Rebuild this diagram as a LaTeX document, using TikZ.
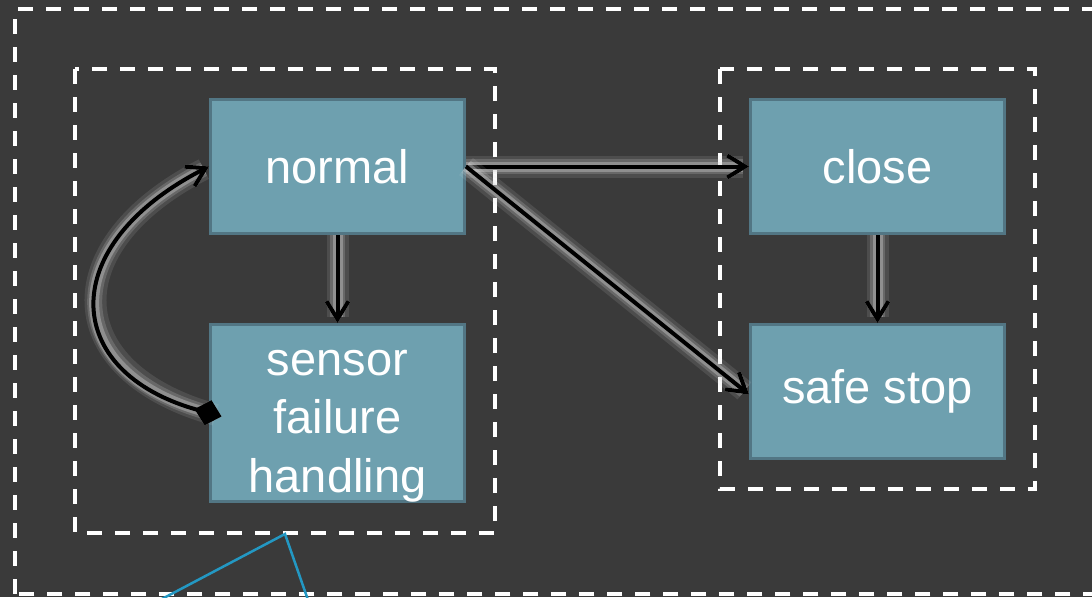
\documentclass[tikz,border=0pt]{standalone}
\usepackage{fontspec}
\setmainfont{Liberation Sans}
\usetikzlibrary{arrows.meta}
\definecolor{bg}{HTML}{3A3A3A}
\definecolor{boxfill}{HTML}{6EA0AF}
\definecolor{boxline}{HTML}{527684}
\definecolor{callout}{HTML}{2398C3}
\definecolor{glow}{HTML}{D8D8D8}
\tikzset{
  state/.style={draw=boxline, line width=3pt, fill=boxfill, text=white,
    minimum width=254pt, inner sep=0pt, align=center,
    font=\fontsize{47}{58.5}\selectfont},
  statetext/.style={text=white, align=center, font=\fontsize{47}{58.5}\selectfont},
  frame/.style={draw=white, line width=4pt, dash pattern=on 15pt off 13pt},
  conn/.style={line width=4pt, draw=black,
    -{Straight Barb[length=18pt,width=22pt,line width=4pt]},
    preaction={draw=glow, opacity=0.12, line width=22pt},
    preaction={draw=glow, opacity=0.2, line width=15pt},
    preaction={draw=glow, opacity=0.35, line width=10pt}},
}
\begin{document}
\begin{tikzpicture}[x=1pt,y=-1pt]
\useasboundingbox (0,0) rectangle (1092,597);
\clip (0,0) rectangle (1092,597);
\fill[bg] (0,0) rectangle (1092,597);
% frames
\draw[frame] (15,593.7) -- (15,9) -- (1120,9) -- (1120,593.7) -- cycle;
\draw[frame] (75,69) rectangle (495,533);
\draw[frame] (720,69) rectangle (1035,489);
% callout
\coordinate (cA) at (160,600);
\coordinate (cB) at (285,534);
\coordinate (cC) at (308,600);
\draw[callout, line width=2.5pt] (cA) -- (cB) -- (cC);
% states
\node[state, minimum height=134pt] (normal) at (337.5,166.5) {normal};
\node[state, minimum height=177pt,
  label={[statetext, yshift=-13pt]center:sensor\\failure\\handling}] (sensor) at (337.5,413) {};
\node[state, minimum height=134pt] (close) at (877.5,166.5) {close};
\node[state, minimum height=134pt] (safe) at (877.5,391.5) {safe stop};
% connectors
\draw[conn] (normal.south) -- (sensor.north);
\draw[conn] (close.south) -- (safe.north);
\draw[conn] (normal.east) -- (close.west);
\draw[conn] (normal.east) -- ([yshift=-3pt]safe.west);
\draw[conn, {Diamond[length=28pt,width=26pt,line width=0pt]}-{Straight Barb[length=18pt,width=22pt,line width=4pt]}, shorten <=-13pt]
  (sensor.west) .. controls (60,372) and (55,245) .. (normal.west);
\end{tikzpicture}
\end{document}
